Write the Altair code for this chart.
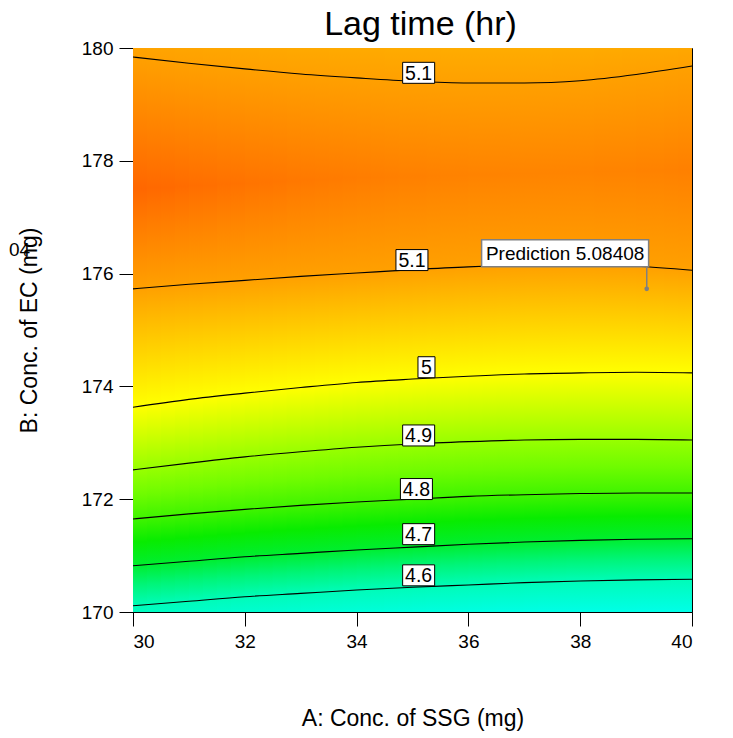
import altair as alt
import pandas as pd

# ---- data ----
x_grid = [30, 31, 32, 33, 34, 35, 36, 37, 38, 39, 40]

# contour lines: y (B: Conc. of EC) at each x for each level
c51_top = [179.84, 179.73, 179.63, 179.54, 179.47, 179.41, 179.38, 179.38, 179.42, 179.53, 179.68]
c51_low = [175.73, 175.81, 175.88, 175.95, 176.01, 176.07, 176.12, 176.15, 176.16, 176.13, 176.06]
c50 = [173.63, 173.77, 173.88, 173.98, 174.07, 174.13, 174.18, 174.22, 174.24, 174.25, 174.24]
c49 = [172.52, 172.64, 172.75, 172.84, 172.92, 172.98, 173.02, 173.05, 173.06, 173.06, 173.05]
c48 = [171.65, 171.74, 171.82, 171.89, 171.95, 172.00, 172.05, 172.08, 172.10, 172.11, 172.11]
c47 = [170.82, 170.90, 170.98, 171.04, 171.10, 171.15, 171.20, 171.24, 171.27, 171.29, 171.30]
c46 = [170.11, 170.19, 170.27, 170.33, 170.39, 170.44, 170.48, 170.52, 170.55, 170.57, 170.58]

# response estimates read from the colours (edges and ridge)
peak_y = [177.50, 177.55, 177.60, 177.65, 177.70, 177.72, 177.75, 177.77, 177.80, 177.82, 177.85]
peak_val = [5.145, 5.140, 5.135, 5.131, 5.128, 5.125, 5.123, 5.122, 5.122, 5.123, 5.125]
top_val = [5.097, 5.095, 5.093, 5.091, 5.090, 5.089, 5.088, 5.088, 5.089, 5.091, 5.093]
bottom_val = [4.590, 4.582, 4.575, 4.570, 4.565, 4.560, 4.555, 4.552, 4.550, 4.549, 4.548]

# contour labels
lab_text = ["5.1", "5.1", "5", "4.9", "4.8", "4.7", "4.6"]
lab_x = [35.11, 34.99, 35.25, 35.11, 35.07, 35.11, 35.11]
lab_y = [179.56, 176.24, 174.34, 173.13, 172.18, 171.38, 170.65]

# prediction flag
pred_text = "Prediction 5.08408"
pred_x = [39.19]
pred_y = [175.73]
pred_box_x = [37.73]
pred_box_y = [176.36]

# ---- colour ramp (style) ----
anchors = [(4.54, '#00FFF0'), (4.60, '#00FCB8'), (4.65, '#00F57A'), (4.70, '#00EE30'),
           (4.75, '#08EC00'), (4.80, '#40F400'), (4.85, '#70FC00'), (4.90, '#98FF00'),
           (4.95, '#CCFF00'), (5.00, '#FFFF00'), (5.05, '#FFD200'), (5.10, '#FFA000'),
           (5.15, '#FF6000')]


def hex2rgb(h):
    return [int(h[i:i + 2], 16) for i in (1, 3, 5)]


def val_color(v):
    if v <= anchors[0][0]:
        return anchors[0][1]
    for (v0, c0), (v1, c1) in zip(anchors[:-1], anchors[1:]):
        if v0 <= v <= v1:
            t = (v - v0) / (v1 - v0)
            a, b = hex2rgb(c0), hex2rgb(c1)
            return '#%02X%02X%02X' % tuple(round(a[k] + (b[k] - a[k]) * t) for k in range(3))
    return anchors[-1][1]


def column_points(i):
    return [(180, top_val[i]), (c51_top[i], 5.1), (peak_y[i], peak_val[i]), (c51_low[i], 5.1),
            (c50[i], 5.0), (c49[i], 4.9), (c48[i], 4.8), (c47[i], 4.7), (c46[i], 4.6),
            (170, bottom_val[i])]


xs = alt.Scale(domain=[30, 40], nice=False, zero=False)
ys = alt.Scale(domain=[170, 180], nice=False, zero=False)
FONT = "Liberation Sans"
axis_x = alt.Axis(values=[30, 32, 34, 36, 38, 40], title="A: Conc. of SSG (mg)", grid=False,
                  tickSize=14, labelPadding=6, titlePadding=56)
axis_y = alt.Axis(values=[170, 172, 174, 176, 178, 180], title="B: Conc. of EC (mg)", grid=False,
                  tickSize=14, labelPadding=6, titlePadding=40)

layers = []
SUB = 4
for i in range(len(x_grid) - 1):
    pa, pb = column_points(i), column_points(i + 1)
    for k in range(SUB):
        t = (k + 0.5) / SUB
        pts = [(ya + (yb - ya) * t, va + (vb - va) * t) for (ya, va), (yb, vb) in zip(pa, pb)]
        full = []
        for j, (yy, vv) in enumerate(pts):
            full.append((yy, vv))
            if 4 <= j < 8:
                yn, vn = pts[j + 1]
                full.append(((yy + yn) / 2, (vv + vn) / 2))
        stops = [alt.GradientStop(offset=(180 - yy) / 10, color=val_color(vv)) for yy, vv in full]
        x0 = x_grid[i] + k / SUB
        x1 = min(40, x_grid[i] + (k + 1) / SUB + 0.03)
        df = pd.DataFrame({'x0': [x0], 'x1': [x1], 'y0': [170], 'y1': [180]})
        layers.append(
            alt.Chart(df).mark_rect(
                fill=alt.Gradient(gradient='linear', stops=stops, x1=0, x2=0, y1=0, y2=1),
                strokeWidth=0).encode(
                x=alt.X('x0:Q', scale=xs, axis=axis_x),
                x2='x1:Q',
                y=alt.Y('y0:Q', scale=ys, axis=axis_y),
                y2='y1:Q')
        )

rows = []
for name, arr, lev in [("a", c51_top, 5.1), ("b", c51_low, 5.1), ("c", c50, 5.0), ("d", c49, 4.9),
                       ("e", c48, 4.8), ("f", c47, 4.7), ("g", c46, 4.6)]:
    for xv, yv in zip(x_grid, arr):
        rows.append({'x': xv, 'y': yv, 'seg': name, 'level': lev})
lines_df = pd.DataFrame(rows)
lines = alt.Chart(lines_df).mark_line(color='black', strokeWidth=1.1, interpolate='monotone').encode(
    x=alt.X('x:Q', scale=xs, axis=axis_x),
    y=alt.Y('y:Q', scale=ys, axis=axis_y),
    detail='seg:N', order='x:Q')
layers.append(lines)

lab_df = pd.DataFrame({'x': lab_x, 'y': lab_y, 'text': lab_text})
wide = lab_df[lab_df.text.str.len() > 1]
narrow = lab_df[lab_df.text.str.len() == 1]
box_wide = "M-16,-10.5H16V10.5H-16Z"
box_narrow = "M-8.5,-10.5H8.5V10.5H-8.5Z"
for sub, shp in [(wide, box_wide), (narrow, box_narrow)]:
    layers.append(alt.Chart(sub).mark_point(shape=shp, size=4, filled=True, fill='white', stroke='black',
                                            strokeWidth=1, opacity=1).encode(
        x=alt.X('x:Q', scale=xs, axis=axis_x), y=alt.Y('y:Q', scale=ys, axis=axis_y)))
layers.append(alt.Chart(lab_df).mark_text(font=FONT, fontSize=19.5, color='black', baseline='middle',
                                          align='center', dy=1).encode(
    x=alt.X('x:Q', scale=xs, axis=axis_x), y=alt.Y('y:Q', scale=ys, axis=axis_y), text='text:N'))

pred_df = pd.DataFrame({'x': pred_x, 'y': pred_y, 'bx': pred_box_x, 'by': pred_box_y, 'text': [pred_text]})
layers.append(alt.Chart(pred_df).mark_rule(color='#808080', strokeWidth=1.5).encode(
    x=alt.X('x:Q', scale=xs, axis=axis_x), y=alt.Y('y:Q', scale=ys, axis=axis_y), y2='by:Q'))
layers.append(alt.Chart(pred_df).mark_point(shape='circle', size=22, filled=True, color='#808080',
                                            opacity=1).encode(
    x=alt.X('x:Q', scale=xs, axis=axis_x), y=alt.Y('y:Q', scale=ys, axis=axis_y)))
layers.append(alt.Chart(pred_df).mark_point(shape="M-83.5,-13.5H83.5V13.5H-83.5Z", size=4, filled=True,
                                            fill='white', stroke='#808080', strokeWidth=1.5,
                                            opacity=1).encode(
    x=alt.X('bx:Q', scale=xs, axis=axis_x), y=alt.Y('by:Q', scale=ys, axis=axis_y)))
layers.append(alt.Chart(pred_df).mark_text(font=FONT, fontSize=19, color='black', baseline='middle',
                                           align='center', dy=1).encode(
    x=alt.X('bx:Q', scale=xs, axis=axis_x), y=alt.Y('by:Q', scale=ys, axis=axis_y), text='text:N'))

# clipped fragment of a label at the far left
frag_df = pd.DataFrame({'x': [28.16], 'y': [176.42], 'text': ['04']})
layers.append(alt.Chart(frag_df).mark_text(font=FONT, fontSize=19, color='black', baseline='middle',
                                           align='right').encode(
    x=alt.X('x:Q', scale=xs, axis=axis_x), y=alt.Y('y:Q', scale=ys, axis=axis_y), text='text:N'))

chart = alt.layer(*layers).properties(
    width=559, height=564,
    title=alt.TitleParams("Lag time (hr)", font=FONT, fontSize=34, fontWeight='normal', color='black',
                          anchor='middle', offset=-3, dx=8),
    autosize=alt.AutoSizeParams(type='none'),
    padding={'left': 133, 'top': 48, 'right': 41, 'bottom': 126}
).configure_axis(
    labelFont=FONT, titleFont=FONT, labelFontSize=19, titleFontSize=23, labelColor='black',
    titleColor='black', titleFontWeight='normal', tickColor='black', domainColor='black',
    tickWidth=1, domainWidth=1
).configure_view(stroke='black', strokeWidth=1)

chart.save("out.html", embed_options={"renderer": "svg", "actions": False})
